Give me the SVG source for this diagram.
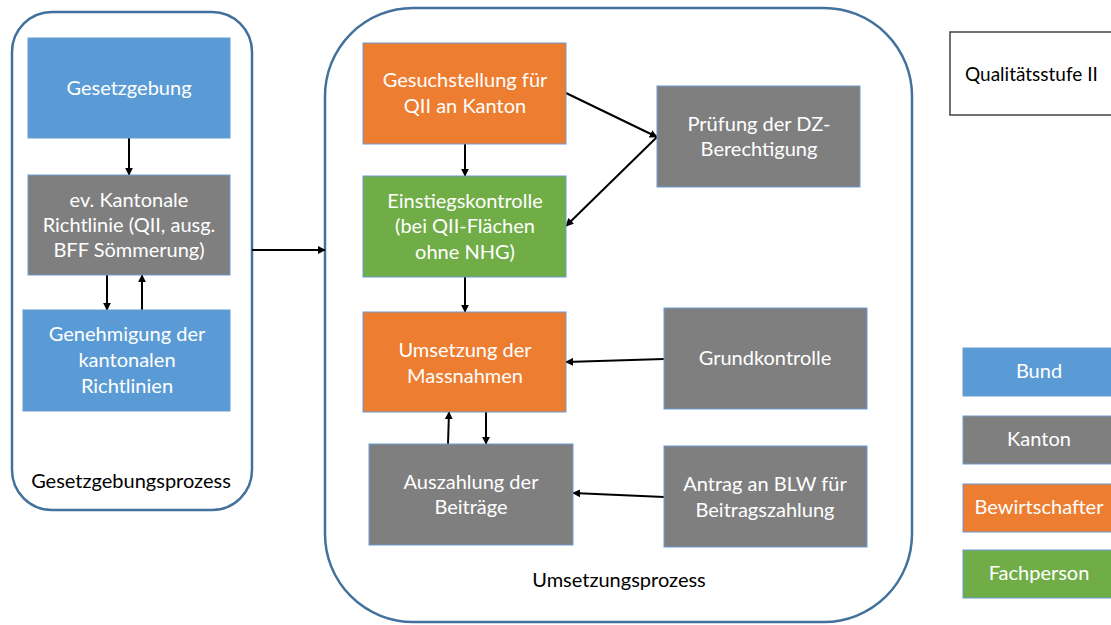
<svg xmlns="http://www.w3.org/2000/svg" width="1111" height="625" viewBox="0 0 1111 625">
<defs>
<style>
.cont{fill:#fff;stroke:#41719C;stroke-width:2.5}
.box{stroke:#6a9bd2;stroke-width:1}
.blue{fill:#5B9BD5}.gray{fill:#7F7F7F}.orange{fill:#ED7D31}.green{fill:#70AD47}
.t{font-family:Lato,"Liberation Sans",sans-serif;font-size:20px;fill:#fff;text-anchor:middle}
.lbl{font-family:Lato,"Liberation Sans",sans-serif;font-size:20px;fill:#000;text-anchor:middle}
.c{stroke:#000;stroke-width:2;fill:none;marker-end:url(#ah)}
</style>
<marker id="ah" viewBox="0 0 10 10" refX="9" refY="5" markerWidth="4" markerHeight="4" orient="auto" markerUnits="strokeWidth">
<path d="M0,0 L10,5 L0,10 z" fill="#000"/>
</marker>
</defs>
<rect width="1111" height="625" fill="#fff"/>

<g id="container-gesetzgebung">
<rect class="cont" x="12" y="12" width="240" height="498" rx="40" ry="40"/>
<text class="lbl" x="131" y="488">Gesetzgebungsprozess</text>
</g>
<g id="container-umsetzung">
<rect class="cont" x="325" y="8" width="587" height="614" rx="88" ry="88"/>
<text class="lbl" x="619" y="587">Umsetzungsprozess</text>
</g>

<g id="connectors">
<line class="c" x1="129" y1="138" x2="129" y2="175"/>
<line class="c" x1="107" y1="275" x2="107" y2="310"/>
<line class="c" x1="142" y1="310" x2="142" y2="275"/>
<line class="c" x1="252" y1="250" x2="325" y2="250"/>
<line class="c" x1="566" y1="93" x2="657" y2="137"/>
<line class="c" x1="657" y1="137" x2="566" y2="226"/>
<line class="c" x1="465" y1="144" x2="465" y2="176"/>
<line class="c" x1="465" y1="277" x2="465" y2="312"/>
<line class="c" x1="664" y1="359" x2="566" y2="362"/>
<line class="c" x1="448" y1="444" x2="449" y2="412"/>
<line class="c" x1="486" y1="412" x2="486" y2="444"/>
<line class="c" x1="664" y1="497" x2="573" y2="493"/>
</g>

<g id="gesetzgebung">
<rect class="box blue" x="28" y="38" width="202" height="100"/>
<text class="t" x="129" y="95">Gesetzgebung</text>
</g>
<g id="richtlinie">
<rect class="box gray" x="28" y="175" width="202" height="100"/>
<text class="t" x="129" y="207">ev. Kantonale</text>
<text class="t" x="129" y="232">Richtlinie (QII, ausg.</text>
<text class="t" x="129" y="257">BFF Sömmerung)</text>
</g>
<g id="genehmigung">
<rect class="box blue" x="23" y="310" width="207" height="101"/>
<text class="t" x="127" y="341">Genehmigung der</text>
<text class="t" x="127" y="367">kantonalen</text>
<text class="t" x="127" y="393">Richtlinien</text>
</g>

<g id="gesuchstellung">
<rect class="box orange" x="363" y="43" width="203" height="101"/>
<text class="t" x="465" y="87">Gesuchstellung für</text>
<text class="t" x="465" y="113">QII an Kanton</text>
</g>
<g id="pruefung">
<rect class="box gray" x="657" y="86" width="203" height="101"/>
<text class="t" x="759" y="131">Prüfung der DZ-</text>
<text class="t" x="759" y="156">Berechtigung</text>
</g>
<g id="einstiegskontrolle">
<rect class="box green" x="363" y="176" width="203" height="101"/>
<text class="t" x="465" y="208">Einstiegskontrolle</text>
<text class="t" x="465" y="233">(bei QII-Flächen</text>
<text class="t" x="465" y="259">ohne NHG)</text>
</g>
<g id="umsetzung">
<rect class="box orange" x="363" y="312" width="203" height="100"/>
<text class="t" x="465" y="357">Umsetzung der</text>
<text class="t" x="465" y="383">Massnahmen</text>
</g>
<g id="grundkontrolle">
<rect class="box gray" x="664" y="308" width="203" height="101"/>
<text class="t" x="765" y="365">Grundkontrolle</text>
</g>
<g id="auszahlung">
<rect class="box gray" x="369" y="444" width="204" height="101"/>
<text class="t" x="471" y="489">Auszahlung der</text>
<text class="t" x="471" y="514">Beiträge</text>
</g>
<g id="antrag">
<rect class="box gray" x="664" y="446" width="203" height="101"/>
<text class="t" x="765" y="491">Antrag an BLW für</text>
<text class="t" x="765" y="517">Beitragszahlung</text>
</g>

<g id="titel">
<rect x="950" y="32" width="170" height="83" fill="#fff" stroke="#404040" stroke-width="1.5"/>
<text x="965" y="81" font-family="Lato,'Liberation Sans',sans-serif" font-size="19" fill="#000">Qualitätsstufe II</text>
</g>
<g id="legend-bund">
<rect class="box blue" x="963" y="348" width="160" height="48"/>
<text class="t" x="1039" y="378">Bund</text>
</g>
<g id="legend-kanton">
<rect class="box gray" x="963" y="416" width="160" height="48"/>
<text class="t" x="1039" y="446">Kanton</text>
</g>
<g id="legend-bewirtschafter">
<rect class="box orange" x="963" y="484" width="160" height="48"/>
<text class="t" x="1039" y="514">Bewirtschafter</text>
</g>
<g id="legend-fachperson">
<rect class="box green" x="963" y="550" width="160" height="48"/>
<text class="t" x="1039" y="580">Fachperson</text>
</g>
</svg>
